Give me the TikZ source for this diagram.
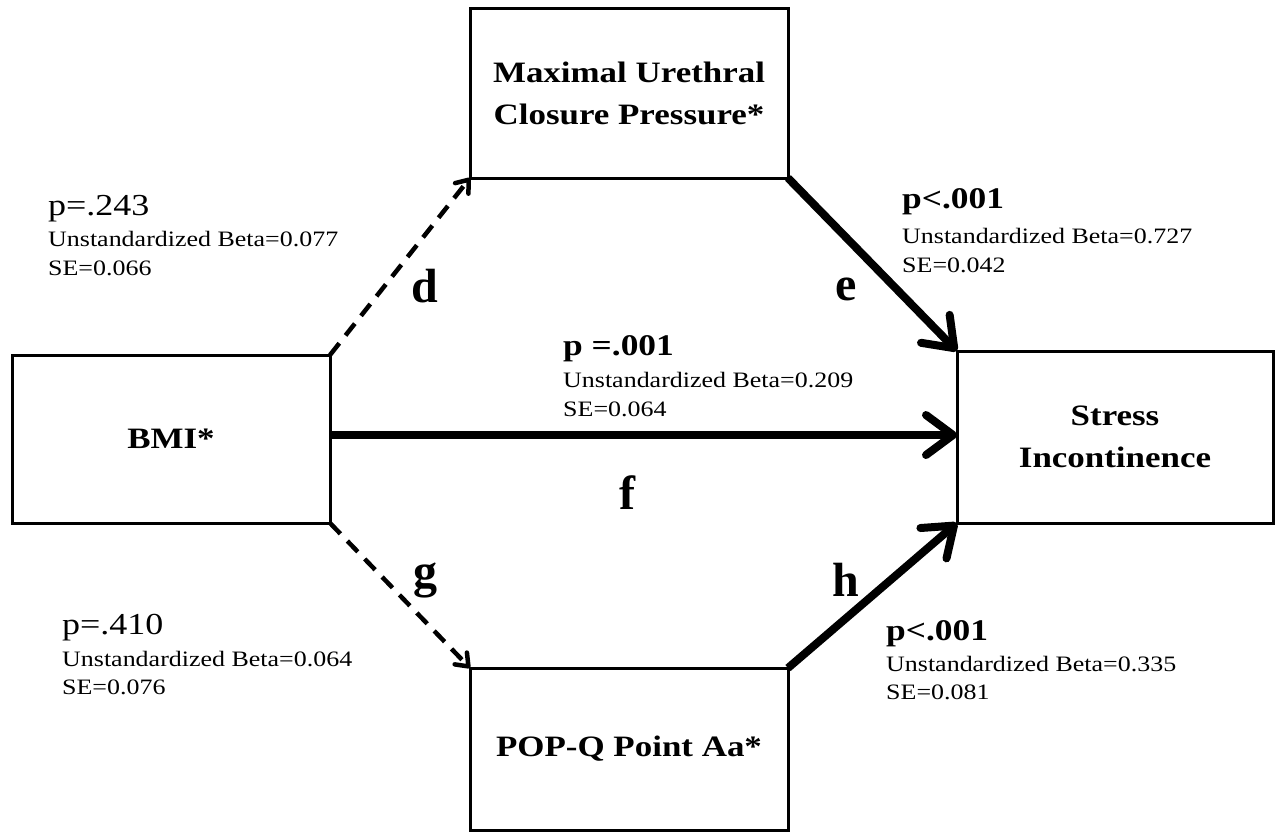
\documentclass[tikz,border=0pt]{standalone}
\usepackage{fontspec}
\setmainfont{Liberation Serif}
\newfontfamily\lab[FakeStretch=1.18]{Liberation Serif}
\usetikzlibrary{arrows.meta}
\begin{document}
\begin{tikzpicture}[x=1pt,y=-1pt,
  box/.style={draw,line width=3pt,outer sep=0pt,inner sep=0pt,align=center,
    font=\lab\bfseries\fontsize{29.6}{42}\selectfont},
  thickarrow/.style={line width=8pt,-{Straight Barb[round,length=27pt,width=40pt]}},
  dasharrow/.style={line width=4.5pt,dash pattern=on 15pt off 10pt,
    -{Straight Barb[round,length=11pt,width=17pt]}},
  pv/.style={inner sep=0pt,anchor=base west,font=\lab\fontsize{30.5}{32}\selectfont},
  pvb/.style={inner sep=0pt,anchor=base west,font=\lab\bfseries\fontsize{30}{32}\selectfont},
  st/.style={inner sep=0pt,anchor=base west,font=\lab\fontsize{22}{24}\selectfont},
  letter/.style={inner sep=0pt,anchor=base,font=\bfseries\fontsize{48}{50}\selectfont}]
\fill[white] (0,0) rectangle (1277,839);
\useasboundingbox (0,0) rectangle (1277,839);

% boxes
\node[box,minimum width=318pt,minimum height=170pt] (mucp) at (629,93) {Maximal Urethral\\Closure Pressure*};
\node[box,minimum width=318pt,minimum height=168pt] (bmi) at (171,439) {BMI*};
\node[box,minimum width=316pt,minimum height=172pt] (si) at (1115,437) {Stress\\Incontinence};
\node[box,minimum width=318pt,minimum height=162pt] (popq) at (629,749) {POP-Q Point Aa*};

% connectors
\draw[dasharrow] (bmi.north east) -- (mucp.south west);
\draw[thickarrow] (mucp.south east) -- (si.north west);
\draw[thickarrow] ([yshift=4pt]bmi.east) -- ([yshift=4pt]bmi.east -| si.west);
\draw[dasharrow] (bmi.south east) -- (popq.north west);
\draw[thickarrow] (popq.north east) -- (si.south west);

% path letters
\node[letter] (ld) at (425,302) {d};
\node[letter] (le) at (846,300) {e};
\node[letter] (lf) at (627,509) {f};
\node[letter] (lg) at (425,587) {g};
\node[letter] (lh) at (846,596) {h};

% statistics: d
\node[pv] (pd) at (48,215) {p=.243};
\node[st] (bd) at (48,246) {Unstandardized Beta=0.077};
\node[st] (sd) at (48,275) {SE=0.066};
% e
\node[pvb] (pe) at (902,208) {p<.001};
\node[st] (be) at (902,243) {Unstandardized Beta=0.727};
\node[st] (se) at (902,272) {SE=0.042};
% f
\node[pvb] (pf) at (563,355) {p =.001};
\node[st] (bf) at (563,387) {Unstandardized Beta=0.209};
\node[st] (sf) at (563,416) {SE=0.064};
% g
\node[pv] (pg) at (62,634) {p=.410};
\node[st] (bg) at (62,666) {Unstandardized Beta=0.064};
\node[st] (sg) at (62,694) {SE=0.076};
% h
\node[pvb] (ph) at (886,640) {p<.001};
\node[st] (bh) at (886,671) {Unstandardized Beta=0.335};
\node[st] (sh) at (886,699) {SE=0.081};
\end{tikzpicture}
\end{document}
